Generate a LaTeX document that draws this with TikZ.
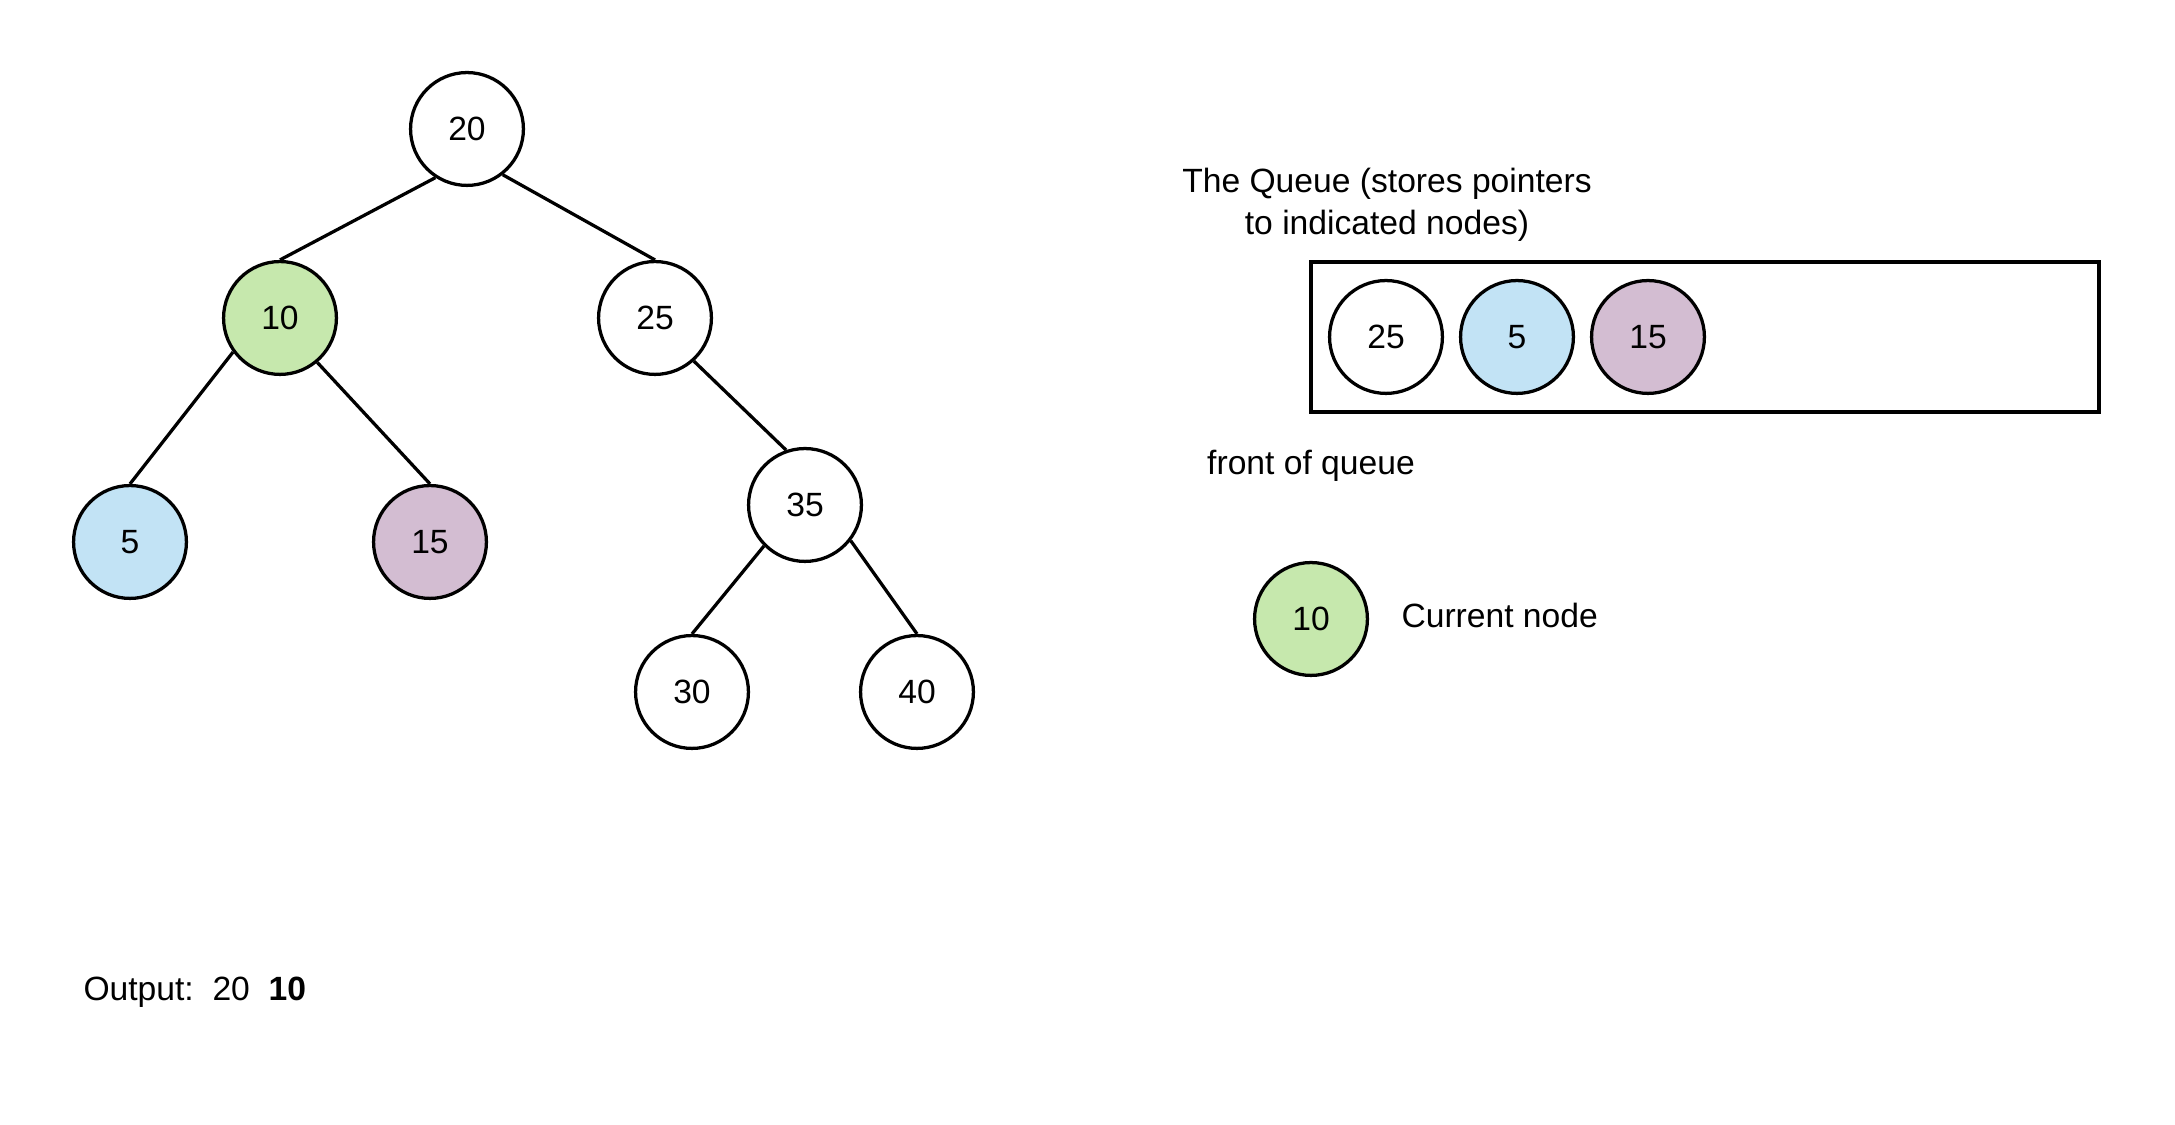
\documentclass[tikz,border=0pt]{standalone}
\usepackage{fontspec}
\setmainfont{Liberation Sans}
\usetikzlibrary{positioning}
\usepackage{color}
\definecolor{curgreen}{RGB}{198, 232, 173}
\definecolor{queueblue}{RGB}{194, 227, 245}
\definecolor{queuemauve}{RGB}{211, 189, 210}

\tikzset{
  treenode/.style={circle, draw=black, line width=1.3pt, minimum size=1.58cm, inner sep=0pt, font=\fontsize{13.4}{16.5}\selectfont},
  treeedge/.style={line width=1.3pt},
  plaintext/.style={font=\fontsize{13.4}{16.5}\selectfont, inner sep=0pt}
}

\begin{document}
\begin{tikzpicture}[x=1.4cm, y=1.4cm]
\useasboundingbox (0,0) rectangle (21.75,11.25);

% Tree nodes
\node[treenode] (t20) at (4.67, 9.96) {20};
\node[treenode, fill=curgreen] (t10) at (2.80, 8.07) {10};
\node[treenode] (t25) at (6.55, 8.07) {25};
\node[treenode, fill=queueblue] (t5) at (1.30, 5.83) {5};
\node[treenode, fill=queuemauve] (t15) at (4.30, 5.83) {15};
\node[treenode] (t35) at (8.05, 6.20) {35};
\node[treenode] (t30) at (6.92, 4.33) {30};
\node[treenode] (t40) at (9.17, 4.33) {40};

% Tree edges
\draw[treeedge] (t20.-123) -- (t10.north);
\draw[treeedge] (t20.-52) -- (t25.north);
\draw[treeedge] (t10.-144) -- (t5.north);
\draw[treeedge] (t10.-50) -- (t15.north);
\draw[treeedge] (t25.-48) -- (t35.109);
\draw[treeedge] (t35.-135) -- (t30.north);
\draw[treeedge] (t35.-38) -- (t40.north);

% The queue
\node[plaintext, align=center] (qtitle) at (13.87, 9.20) {The Queue (stores pointers\\to indicated nodes)};
\draw[line width=1.3pt] (13.11, 8.63) rectangle (20.99, 7.13);
\node[treenode] (q25) at (13.86, 7.88) {25};
\node[treenode, fill=queueblue] (q5) at (15.17, 7.88) {5};
\node[treenode, fill=queuemauve] (q15) at (16.48, 7.88) {15};
\node[plaintext] (qfront) at (13.11, 6.59) {front of queue};

% Legend for current node
\node[treenode, fill=curgreen] (cur) at (13.11, 5.06) {10};
\node[plaintext, anchor=west] (curlabel) at (14.01, 5.10) {Current node};

% Output
\node[plaintext, anchor=west] (output) at (0.83, 1.33) {Output:\ \ 20\ \ \textbf{10}};
\end{tikzpicture}
\end{document}
